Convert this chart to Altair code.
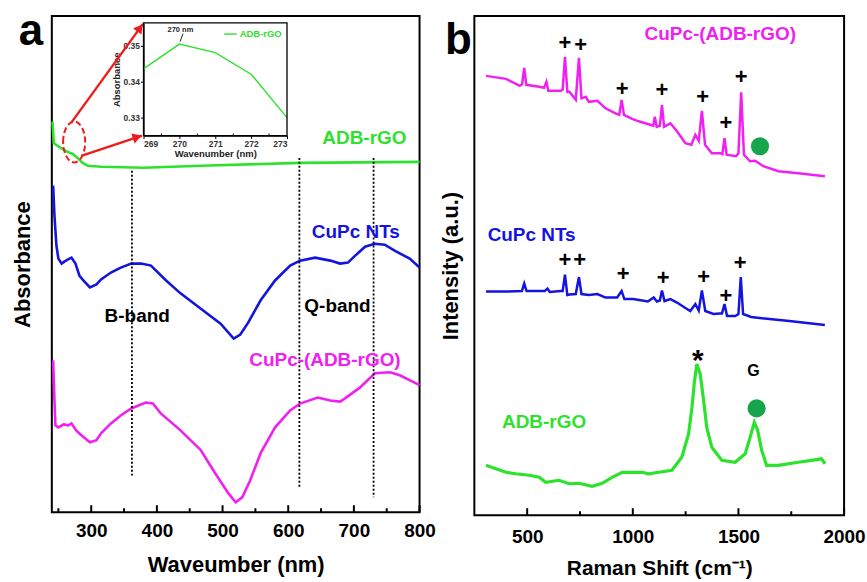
import altair as alt
import pandas as pd

FONT = "Liberation Sans"
GREEN = "#2de22d"
BLUE = "#1414e0"
MAGENTA = "#f020f0"
DOT_GREEN = "#16a54c"
RED = "#ee1c1c"

# ---------------- panel a : UV-vis absorbance (a.u.) ----------------
A_ADB_WL = [241, 243, 247, 256, 264, 272, 279, 287, 295, 315, 380, 467, 618, 800]
A_ADB_ABS = [78.7, 74.4, 74.0, 73.2, 72.6, 72.2, 71.4, 70.4, 69.8, 69.6, 69.4, 69.8, 70.4, 70.6]

A_NT_WL = [242, 244, 247, 250, 255, 259, 264, 270, 276, 282,
           288, 298, 308, 315, 330, 345, 361, 376, 391, 414,
           436, 467, 497, 517, 527, 539, 558, 580, 603, 618,
           641, 664, 679, 691, 702, 717, 732, 747, 762, 785, 800]
A_NT_ABS = [65.8, 59.8, 53.7, 51.1, 50.1, 50.5, 50.9, 51.3, 50.1, 47.7,
            46.7, 45.3, 45.9, 46.9, 48.3, 49.3, 50.1, 50.1, 49.7, 46.7,
            44.1, 41.0, 38.0, 35.0, 35.8, 38.2, 42.7, 46.7, 49.7, 50.7,
            51.3, 50.7, 50.1, 50.3, 51.7, 53.5, 54.1, 53.9, 52.7, 51.1, 49.3]

A_CG_WL = [242, 244, 245.5, 250, 258, 265, 270, 277, 285, 298,
           308, 315, 330, 345, 361, 383, 394, 406, 436, 467,
           489, 509, 520, 530, 542, 558, 580, 603, 618, 645,
           664, 679, 686, 709, 732, 755, 770, 800]
A_CG_ABS = [30.6, 22.5, 17.5, 17.1, 17.7, 17.5, 17.9, 16.5, 15.5, 14.1,
            14.5, 15.9, 17.9, 19.5, 20.9, 22.1, 21.9, 19.9, 16.5, 12.5,
            7.8, 3.8, 2.0, 3.0, 6.4, 11.9, 17.1, 20.5, 21.9, 23.1,
            22.5, 22.3, 22.9, 25.1, 28.0, 28.2, 27.6, 25.6]

A_SAMPLES = ["ADB-rGO", "CuPc NTs", "CuPc-(ADB-rGO)"]
A_COLORS = [GREEN, BLUE, MAGENTA]

BAND_WL = [362, 617, 730]
BAND_TOP = [68.8, 71.4, 71.4]
BAND_BOTTOM = [7.4, 5.0, 3.0]

A_LABELS = ["ADB-rGO", "CuPc NTs", "B-band", "Q-band", "CuPc-(ADB-rGO)"]
A_LABEL_WL = [716, 703, 370, 675, 656]
A_LABEL_ABS = [75.5, 56.5, 39.6, 41.6, 30.6]
A_LABEL_COLORS = [GREEN, BLUE, "black", "black", MAGENTA]

A_MAJOR_TICKS = [300, 400, 500, 600, 700, 800]
A_MINOR_TICKS = [250, 350, 450, 550, 650, 750]

# zoom marker (ellipse) and arrows to the inset
ZOOM_WL, ZOOM_ABS = [274], [74.6]
ARROW_WL = [269.7, 284.8]
ARROW_ABS = [78.5, 71.8]
ARROW_WL2 = [378.8, 377.3]
ARROW_ABS2 = [98.4, 75.9]
HEAD_WL = [374.2, 370.1]
HEAD_ABS = [97.6, 75.6]
HEAD_ANGLE = [36.4, 71.4]

# inset: ADB-rGO around 270 nm
IN_WL = [269, 270, 271, 272, 273]
IN_ABS = [0.3436, 0.3505, 0.3481, 0.3421, 0.3300]

# ---------------- panel b : Raman ----------------
R_CG_X = [305, 400, 465, 476, 486, 496, 557, 580, 591, 600,
          659, 668, 679, 690, 700, 730, 745, 757, 777, 792,
          832, 871, 918, 936, 947, 958, 997, 1028, 1083, 1097,
          1104, 1113, 1128, 1138, 1148, 1178, 1209, 1249, 1277, 1296,
          1312, 1327, 1342, 1374, 1414, 1424, 1434, 1444, 1489, 1500,
          1513, 1526, 1555, 1579, 1618, 1689, 1783, 1909]
R_CG_Y = [88.0, 87.4, 86.0, 86.3, 89.6, 86.2, 85.8, 85.6, 86.8, 85.0,
          85.0, 85.2, 91.8, 84.8, 84.8, 83.2, 91.6, 83.5, 83.8, 82.8,
          83.0, 81.5, 80.5, 80.2, 83.2, 80.2, 79.4, 78.9, 78.2, 78.0,
          79.8, 77.8, 78.0, 82.2, 77.8, 78.5, 76.9, 74.5, 74.2, 76.2,
          75.0, 81.0, 74.2, 72.5, 72.5, 72.3, 75.5, 72.2, 71.9, 72.5,
          84.7, 72.2, 70.9, 71.0, 69.9, 68.9, 68.5, 67.9]

R_NT_X = [305, 400, 475, 486, 497, 560, 583, 596, 607, 659,
          668, 679, 690, 701, 730, 745, 757, 792, 832, 871,
          926, 947, 960, 1002, 1071, 1099, 1114, 1128, 1138, 1150,
          1178, 1209, 1249, 1272, 1296, 1312, 1327, 1343, 1382, 1410,
          1422, 1434, 1446, 1485, 1500, 1511, 1522, 1560, 1647, 1741, 1909]
R_NT_Y = [44.8, 44.8, 44.9, 46.4, 44.9, 44.9, 44.9, 45.4, 44.7, 44.9,
          44.9, 48.2, 44.1, 44.2, 44.3, 47.7, 44.3, 44.1, 44.3, 43.6,
          43.6, 44.9, 43.3, 43.3, 42.8, 43.6, 42.8, 43.0, 45.0, 42.9,
          43.3, 42.6, 41.5, 40.9, 42.3, 41.0, 45.0, 40.9, 40.3, 40.4,
          40.4, 42.3, 39.9, 39.9, 40.3, 47.7, 40.3, 39.7, 39.3, 38.9, 38.1]

R_ADB_X = [305, 352, 400, 447, 509, 557, 588, 651, 698, 745,
           808, 855, 902, 950, 997, 1044, 1075, 1123, 1185, 1232,
           1264, 1280, 1292, 1303, 1319, 1335, 1350, 1374, 1421, 1484,
           1532, 1555, 1575, 1591, 1610, 1633, 1689, 1783, 1846, 1893, 1910]
R_ADB_Y = [10.0, 9.3, 8.6, 8.3, 8.0, 7.6, 6.6, 7.0, 6.3, 6.4,
           5.8, 6.4, 7.6, 8.6, 8.6, 8.6, 8.3, 8.6, 9.0, 11.6,
           16.3, 21.6, 26.9, 30.3, 28.3, 23.0, 17.6, 13.6, 11.0, 10.6,
           12.3, 15.6, 18.6, 17.0, 13.0, 10.0, 10.0, 10.6, 11.0, 11.3, 10.3]

PLUS_X = [679, 753, 950, 1138, 1330, 1440, 1513, 679, 748, 954, 1143, 1335, 1440, 1508]
PLUS_Y = [94.6, 94.2, 85.4, 85.2, 83.8, 78.6, 87.8, 51.1, 51.1, 48.4, 47.6, 47.7, 43.9, 50.6]

G_DOT_X = [1602, 1586]
G_DOT_Y = [73.9, 21.4]

B_LABELS = ["CuPc-(ADB-rGO)", "CuPc NTs", "ADB-rGO"]
B_LABEL_X = [1414, 521, 580]
B_LABEL_Y = [96.3, 56.2, 18.6]
B_LABEL_COLORS = [MAGENTA, BLUE, GREEN]

B_MAJOR_TICKS = [500, 1000, 1500, 2000]
B_MINOR_TICKS = [750, 1250, 1750]

# ---------------- sizes ----------------
W_A, H_A = 369, 498
W_B, H_B = 371, 501

# =============== build panel a ===============
df_a = pd.concat([
    pd.DataFrame({"wl": A_ADB_WL, "ab": A_ADB_ABS, "s": A_SAMPLES[0]}),
    pd.DataFrame({"wl": A_NT_WL, "ab": A_NT_ABS, "s": A_SAMPLES[1]}),
    pd.DataFrame({"wl": A_CG_WL, "ab": A_CG_ABS, "s": A_SAMPLES[2]}),
])
SX_A = alt.Scale(domain=[240, 800], nice=False, zero=False)
SY_A = alt.Scale(domain=[0, 100], nice=False, zero=False)

x_axis_a = alt.Axis(values=A_MAJOR_TICKS, format="d", ticks=False, tickSize=0, domain=False,
                    grid=False, labelFontSize=19, labelPadding=9, labelFlush=False,
                    title="Waveumber (nm)", titleFontSize=22, titlePadding=14)
y_axis_a = alt.Axis(labels=False, ticks=False, tickSize=0, domain=False, grid=False,
                    title="Absorbance", titleFontSize=22, titlePadding=17)

lines_a = alt.Chart(df_a).mark_line(strokeWidth=2.6).encode(
    x=alt.X("wl:Q", scale=SX_A, axis=x_axis_a),
    y=alt.Y("ab:Q", scale=SY_A, axis=y_axis_a),
    color=alt.Color("s:N", scale=alt.Scale(domain=A_SAMPLES, range=A_COLORS), legend=None),
    detail="s:N",
)

bands = alt.Chart(pd.DataFrame({"wl": BAND_WL, "ab": BAND_TOP, "ab2": BAND_BOTTOM})).mark_rule(
    color="black", strokeWidth=1.8, strokeDash=[2, 2]).encode(
    x=alt.X("wl:Q", scale=SX_A), y=alt.Y("ab:Q", scale=SY_A), y2="ab2:Q")

labels_a = alt.Chart(pd.DataFrame({"wl": A_LABEL_WL, "ab": A_LABEL_ABS, "t": A_LABELS, "c": A_LABEL_COLORS})).mark_text(
    font=FONT, fontSize=19, fontWeight="bold", baseline="middle", align="center").encode(
    x=alt.X("wl:Q", scale=SX_A), y=alt.Y("ab:Q", scale=SY_A), text="t:N",
    color=alt.Color("c:N", scale=None))

ticks_major_a = alt.Chart(pd.DataFrame({"wl": A_MAJOR_TICKS})).mark_rule(color="black", strokeWidth=2).encode(
    x=alt.X("wl:Q", scale=SX_A), y=alt.value(H_A), y2=alt.value(H_A - 7))
ticks_minor_a = alt.Chart(pd.DataFrame({"wl": A_MINOR_TICKS})).mark_rule(color="black", strokeWidth=2).encode(
    x=alt.X("wl:Q", scale=SX_A), y=alt.value(H_A), y2=alt.value(H_A - 4))

ELLIPSE = "M -0.54 0 A 0.54 1 0 1 1 0.54 0 A 0.54 1 0 1 1 -0.54 0 Z"
zoom_mark = alt.Chart(pd.DataFrame({"wl": ZOOM_WL, "ab": ZOOM_ABS})).mark_point(
    shape=ELLIPSE, size=1681, filled=False, stroke=RED, strokeWidth=2, strokeDash=[6, 3], opacity=1).encode(
    x=alt.X("wl:Q", scale=SX_A), y=alt.Y("ab:Q", scale=SY_A))

arrows = alt.Chart(pd.DataFrame({"wl": ARROW_WL, "ab": ARROW_ABS, "wl2": ARROW_WL2, "ab2": ARROW_ABS2})).mark_rule(
    color=RED, strokeWidth=2.4).encode(
    x=alt.X("wl:Q", scale=SX_A), y=alt.Y("ab:Q", scale=SY_A), x2="wl2:Q", y2="ab2:Q")
heads = alt.Chart(pd.DataFrame({"wl": HEAD_WL, "ab": HEAD_ABS, "ang": HEAD_ANGLE})).mark_point(
    shape="triangle-up", filled=True, color=RED, size=110, opacity=1).encode(
    x=alt.X("wl:Q", scale=SX_A), y=alt.Y("ab:Q", scale=SY_A), angle=alt.Angle("ang:Q", scale=None))

tag_a = alt.Chart(pd.DataFrame({"t": ["a"]})).mark_text(
    font=FONT, fontSize=44, fontWeight="bold", align="center", baseline="alphabetic", color="black").encode(
    x=alt.value(-21), y=alt.value(29), text="t:N")

main_a = alt.layer(lines_a, bands, labels_a, ticks_major_a, ticks_minor_a, zoom_mark, arrows, heads, tag_a)

# inset (own scales placed inside the plot area)
IN_TOP, IN_BOTTOM, IN_LEFT, IN_RIGHT = 7, 120, 92, 236
SX_I = alt.Scale(domain=[269, 273], range=[IN_LEFT, IN_RIGHT], nice=False, zero=False)
SY_I = alt.Scale(domain=[0.325, 0.3564], range=[IN_BOTTOM, IN_TOP], nice=False, zero=False)
x_axis_i = alt.Axis(orient="bottom", offset=-(H_A - IN_BOTTOM), values=IN_WL, format="d", grid=False,
                    labelFontSize=8.5, labelFontWeight="bold", labelColor="#333", labelPadding=1,
                    tickSize=3, tickColor="black", domainColor="black", domainWidth=1.3,
                    title="Wavenumber (nm)", titleFontSize=9.5, titlePadding=1, titleColor="#222")
y_axis_i = alt.Axis(orient="left", offset=-IN_LEFT, values=[0.33, 0.34, 0.35], format=".2f", grid=False,
                    labelFontSize=8.5, labelFontWeight="bold", labelColor="#333", labelPadding=1,
                    tickSize=3, tickColor="black", domainColor="black", domainWidth=1.3,
                    title="Absorbance", titleFontSize=9.5, titlePadding=2, titleColor="#222")

in_line = alt.Chart(pd.DataFrame({"wl": IN_WL, "ab": IN_ABS})).mark_line(color=GREEN, strokeWidth=1.4).encode(
    x=alt.X("wl:Q", scale=SX_I, axis=x_axis_i), y=alt.Y("ab:Q", scale=SY_I, axis=y_axis_i))
in_box = alt.Chart(pd.DataFrame({"wl": [269], "wl2": [273], "ab": [0.325], "ab2": [0.3564]})).mark_rect(
    fillOpacity=0, stroke="black", strokeWidth=1.3).encode(
    x=alt.X("wl:Q", scale=SX_I), x2="wl2:Q", y=alt.Y("ab:Q", scale=SY_I), y2="ab2:Q")
in_leg_line = alt.Chart(pd.DataFrame({"wl": [271.25], "wl2": [271.6], "ab": [0.3533]})).mark_rule(
    color=GREEN, strokeWidth=1.4).encode(x=alt.X("wl:Q", scale=SX_I), x2="wl2:Q", y=alt.Y("ab:Q", scale=SY_I))
in_texts = alt.Chart(pd.DataFrame({"wl": [271.68, 269.67], "ab": [0.3533, 0.3543], "t": ["ADB-rGO", "270 nm"],
                                   "c": [GREEN, "#222"], "fs": [9.5, 7.5]})).mark_text(
    font=FONT, fontWeight="bold", align="left", baseline="middle").encode(
    x=alt.X("wl:Q", scale=SX_I), y=alt.Y("ab:Q", scale=SY_I), text="t:N",
    color=alt.Color("c:N", scale=None), size=alt.Size("fs:Q", scale=None))
in_arrow = alt.Chart(pd.DataFrame({"wl": [270.1], "wl2": [270.02], "ab": [0.3534], "ab2": [0.3512]})).mark_rule(
    color="#222", strokeWidth=1).encode(x=alt.X("wl:Q", scale=SX_I), x2="wl2:Q", y=alt.Y("ab:Q", scale=SY_I), y2="ab2:Q")
in_minor = alt.Chart(pd.DataFrame({"wl": [269.5, 270.5, 271.5, 272.5]})).mark_rule(color="black", strokeWidth=1).encode(
    x=alt.X("wl:Q", scale=SX_I), y=alt.value(IN_BOTTOM), y2=alt.value(IN_BOTTOM - 2))

inset = alt.layer(in_line, in_box, in_leg_line, in_texts, in_arrow, in_minor)

panel_a = alt.layer(main_a, inset).resolve_scale(x="independent", y="independent").properties(width=W_A, height=H_A)

# =============== build panel b ===============
df_b = pd.concat([
    pd.DataFrame({"rs": R_CG_X, "it": R_CG_Y, "s": "CuPc-(ADB-rGO)", "w": 2.5}),
    pd.DataFrame({"rs": R_NT_X, "it": R_NT_Y, "s": "CuPc NTs", "w": 2.5}),
    pd.DataFrame({"rs": R_ADB_X, "it": R_ADB_Y, "s": "ADB-rGO", "w": 3.2}),
])
SX_B = alt.Scale(domain=[250, 2000], nice=False, zero=False)
SY_B = alt.Scale(domain=[0, 100], nice=False, zero=False)
x_axis_b = alt.Axis(values=B_MAJOR_TICKS, format="d", ticks=False, tickSize=0, domain=False, grid=False,
                    labelFontSize=19, labelPadding=12, labelFlush=False,
                    title="Raman Shift (cm\u207b\u00b9)", titleFontSize=21, titlePadding=11)
y_axis_b = alt.Axis(labels=False, ticks=False, tickSize=0, domain=False, grid=False,
                    title="Intensity (a.u.)", titleFontSize=22, titlePadding=12)

lines_b = alt.Chart(df_b).mark_line().encode(
    x=alt.X("rs:Q", scale=SX_B, axis=x_axis_b),
    y=alt.Y("it:Q", scale=SY_B, axis=y_axis_b),
    color=alt.Color("s:N", scale=alt.Scale(domain=A_SAMPLES, range=A_COLORS), legend=None),
    strokeWidth=alt.StrokeWidth("w:Q", scale=None),
    detail="s:N",
)
plus = alt.Chart(pd.DataFrame({"rs": PLUS_X, "it": PLUS_Y})).mark_text(
    text="+", font=FONT, fontSize=22, fontWeight="bold", color="black", baseline="middle", align="center").encode(
    x=alt.X("rs:Q", scale=SX_B), y=alt.Y("it:Q", scale=SY_B))
dots = alt.Chart(pd.DataFrame({"rs": G_DOT_X, "it": G_DOT_Y})).mark_point(
    shape="circle", filled=True, size=330, color=DOT_GREEN, opacity=1).encode(
    x=alt.X("rs:Q", scale=SX_B), y=alt.Y("it:Q", scale=SY_B))
star = alt.Chart(pd.DataFrame({"rs": [1308], "it": [32.4]})).mark_text(
    text="*", font=FONT, fontSize=30, fontWeight="bold", color="black", baseline="middle", align="center", dy=8).encode(
    x=alt.X("rs:Q", scale=SX_B), y=alt.Y("it:Q", scale=SY_B))
gmark = alt.Chart(pd.DataFrame({"rs": [1571], "it": [28.9]})).mark_text(
    text="G", font=FONT, fontSize=16, fontWeight="bold", color="black", baseline="middle", align="center").encode(
    x=alt.X("rs:Q", scale=SX_B), y=alt.Y("it:Q", scale=SY_B))
labels_b = alt.Chart(pd.DataFrame({"rs": B_LABEL_X, "it": B_LABEL_Y, "t": B_LABELS, "c": B_LABEL_COLORS})).mark_text(
    font=FONT, fontSize=19, fontWeight="bold", baseline="middle", align="center").encode(
    x=alt.X("rs:Q", scale=SX_B), y=alt.Y("it:Q", scale=SY_B), text="t:N",
    color=alt.Color("c:N", scale=None))
ticks_major_b = alt.Chart(pd.DataFrame({"rs": B_MAJOR_TICKS})).mark_rule(color="black", strokeWidth=2).encode(
    x=alt.X("rs:Q", scale=SX_B), y=alt.value(H_B), y2=alt.value(H_B - 7))
ticks_minor_b = alt.Chart(pd.DataFrame({"rs": B_MINOR_TICKS})).mark_rule(color="black", strokeWidth=2).encode(
    x=alt.X("rs:Q", scale=SX_B), y=alt.value(H_B), y2=alt.value(H_B - 4))
tag_b = alt.Chart(pd.DataFrame({"t": ["b"]})).mark_text(
    font=FONT, fontSize=44, fontWeight="bold", align="center", baseline="alphabetic", color="black").encode(
    x=alt.value(-16), y=alt.value(38), text="t:N")

panel_b = alt.layer(lines_b, plus, dots, star, gmark, labels_b, ticks_major_b, ticks_minor_b, tag_b).properties(
    width=W_B, height=H_B)

chart = alt.hconcat(panel_a, panel_b, spacing=55, bounds="flush").properties(
    padding={"left": 11, "top": 8, "right": 0, "bottom": 0}, background="white"
).configure_view(stroke="black", strokeWidth=2).configure_axis(
    labelFont=FONT, titleFont=FONT, labelFontWeight="bold", titleFontWeight="bold",
    labelColor="black", titleColor="black"
)

chart.save("out.html", embed_options={"renderer": "svg", "actions": False})
